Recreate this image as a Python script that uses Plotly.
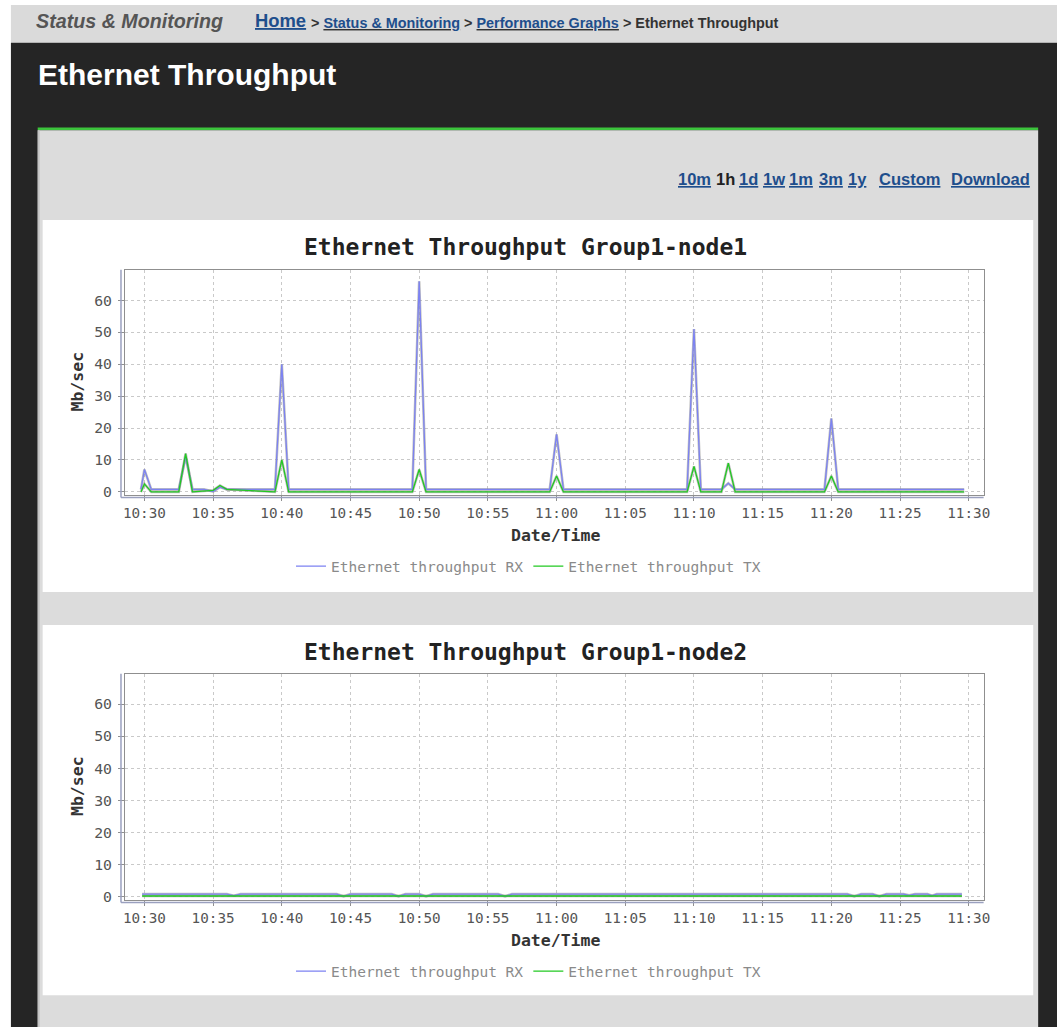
import plotly.graph_objects as go

W, H = 1064, 1032
DAY = "2024-01-01 "

# ---------------- data ----------------
# node1 RX (time, Mb/sec)
rx1_time = ["10:29:45", "10:30:00", "10:30:30", "10:32:30", "10:33:00", "10:33:30", "10:34:20",
            "10:35:00", "10:35:30", "10:36:00", "10:39:30", "10:40:00", "10:40:30", "10:49:30",
            "10:50:00", "10:50:30", "10:59:30", "11:00:00", "11:00:30", "11:09:30", "11:10:00",
            "11:10:30", "11:12:00", "11:12:30", "11:13:00", "11:19:30", "11:20:00", "11:20:30",
            "11:29:40"]
rx1_val = [0.8, 7, 0.8, 0.8, 11, 0.8, 0.8,
           0.1, 1.5, 0.8, 0.8, 40, 0.8, 0.8,
           66, 0.8, 0.8, 18, 0.8, 0.8, 51,
           0.8, 0.8, 2.7, 0.8, 0.8, 23, 0.8,
           0.8]
# node1 TX
tx1_time = ["10:29:45", "10:30:00", "10:30:30", "10:32:30", "10:33:00", "10:33:30", "10:35:00",
            "10:35:30", "10:36:00", "10:39:30", "10:40:00", "10:40:30", "10:49:30", "10:50:00",
            "10:50:30", "10:59:30", "11:00:00", "11:00:30", "11:09:30", "11:10:00", "11:10:30",
            "11:12:00", "11:12:30", "11:13:00", "11:19:30", "11:20:00", "11:20:30", "11:29:40"]
tx1_val = [0, 2.5, 0, 0, 12, 0, 0.5,
           2, 0.8, 0, 10, 0, 0, 7,
           0, 0, 5, 0, 0, 8, 0,
           0, 9, 0, 0, 5, 0, 0]
# node2 RX
rx2_time = ["10:29:50", "10:36:00", "10:36:30", "10:37:00", "10:44:00", "10:44:30", "10:45:00",
            "10:48:00", "10:48:30", "10:49:00", "10:50:00", "10:50:30", "10:51:00", "10:55:45",
            "10:56:15", "10:56:45", "11:21:10", "11:21:40", "11:22:10", "11:23:00", "11:23:30",
            "11:24:00", "11:25:15", "11:25:40", "11:26:05", "11:27:00", "11:27:20", "11:27:40",
            "11:29:30"]
rx2_val = [0.8, 0.8, 0.3, 0.8, 0.8, 0.1, 0.8,
           0.8, 0.1, 0.8, 0.8, 0.1, 0.8, 0.8,
           0.1, 0.8, 0.8, 0.1, 0.8, 0.8, 0.1,
           0.8, 0.8, 0.4, 0.8, 0.8, 0.3, 0.8,
           0.8]
# node2 TX
tx2_time = ["10:29:50", "10:45:00", "10:50:00", "11:00:00", "11:15:00", "11:29:30"]
tx2_val = [0.2, 0.2, 0.2, 0.2, 0.2, 0.2]

y_ticks = [0, 10, 20, 30, 40, 50, 60]
series_names = ["Ethernet throughput RX", "Ethernet throughput TX"]
chart_titles = ["Ethernet Throughput Group1-node1", "Ethernet Throughput Group1-node2"]
range_links = ["10m", "1h", "1d", "1w", "1m", "3m", "1y", "Custom", "Download"]
range_link_x = [680, 718, 741, 765, 792, 822, 851, 882, 955]

RX_COLOR = "#7c82f2"
TX_COLOR = "#22c922"
SHADOW = "rgba(140,140,140,0.55)"
MONO = "DejaVu Sans Mono"
SANS = "Liberation Sans, Arial, sans-serif"


def px(x):
    return x / W


def py(y):
    return 1 - y / H


def ts(lst):
    return [DAY + t for t in lst]


fig = go.Figure()

datasets = [
    ((rx1_time, rx1_val), (tx1_time, tx1_val), "x", "y", "legend"),
    ((rx2_time, rx2_val), (tx2_time, tx2_val), "x2", "y2", "legend2"),
]
for rx, tx, xa, ya, lg in datasets:
    for (t, v) in (rx, tx):
        fig.add_trace(go.Scatter(x=ts(t), y=v, mode="lines", xaxis=xa, yaxis=ya,
                                 line=dict(color=SHADOW, width=2.6), showlegend=False,
                                 hoverinfo="skip"))
    fig.add_trace(go.Scatter(x=ts(rx[0]), y=rx[1], mode="lines", name=series_names[0],
                             xaxis=xa, yaxis=ya, legend=lg,
                             line=dict(color=RX_COLOR, width=1.3)))
    fig.add_trace(go.Scatter(x=ts(tx[0]), y=tx[1], mode="lines", name=series_names[1],
                             xaxis=xa, yaxis=ya, legend=lg,
                             line=dict(color=TX_COLOR, width=1.3)))

# ---------------- axes ----------------
x_dom = [px(124), px(990)]
frames = [(271, 497, [-0.84, 69.6]), (677, 904, [-0.93, 69.5])]
xrange = [DAY + "10:28:35", DAY + "11:31:05"]

common_x = dict(type="date", range=xrange, tick0=DAY + "10:30:00", dtick=300000,
                tickformat="%H:%M", showgrid=True, gridcolor="#c9c9c9", griddash="dot",
                gridwidth=1, showline=True, mirror=True, linecolor="#8f8f8f", linewidth=1,
                ticks="outside", ticklen=5, tickcolor="#8f8f8f", zeroline=False,
                tickfont=dict(family=MONO, size=14.3, color="#555555"),
                ticklabelstandoff=0, fixedrange=True)
common_y = dict(tickvals=y_ticks, showgrid=True, gridcolor="#c9c9c9", griddash="dot",
                gridwidth=1, showline=True, mirror=True, linecolor="#8f8f8f", linewidth=1,
                ticks="outside", ticklen=6, tickcolor="#8f8f8f", zeroline=False,
                tickfont=dict(family=MONO, size=14.8, color="#555555"),
                ticklabelstandoff=3, fixedrange=True)

fig.update_layout(
    xaxis=dict(domain=x_dom, anchor="y", **common_x),
    yaxis=dict(domain=[py(frames[0][1]), py(frames[0][0])], range=frames[0][2], anchor="x", **common_y),
    xaxis2=dict(domain=x_dom, anchor="y2", **common_x),
    yaxis2=dict(domain=[py(frames[1][1]), py(frames[1][0])], range=frames[1][2], anchor="x2", **common_y),
)

# ---------------- page background shapes ----------------
shapes = []


def rect(x0, y0, x1, y1, color, layer="below"):
    shapes.append(dict(type="rect", xref="paper", yref="paper", x0=px(x0), x1=px(x1),
                       y0=py(y1), y1=py(y0), fillcolor=color, line=dict(width=0), layer=layer))


rect(9, 5, W, 43, "#dadada")
rect(9, 43, W, H, "#252525")
rect(36, 128, 1045, 131, "#3cc43c")
rect(36, 131, 1045, H, "#dcdcdc")
rect(36, 131, 38, H, "#c4c4c4")
rect(41, 221, 1040, 595, "#ffffff")
rect(41, 628, 1040, 1000, "#ffffff")

# offset axis lines (JFreeChart style)
for top, bot, _ in frames:
    shapes.append(dict(type="line", xref="paper", yref="paper", x0=px(120), x1=px(120),
                       y0=py(bot + 3), y1=py(top), line=dict(color="#9aa0bf", width=1.5)))
    shapes.append(dict(type="line", xref="paper", yref="paper", x0=px(120), x1=px(990),
                       y0=py(bot + 3), y1=py(bot + 3), line=dict(color="#9aa0bf", width=1.5)))

# ---------------- text ----------------
ann = []


def text(x, y, s, size, color, family=SANS, xanchor="left", yanchor="middle", angle=0):
    ann.append(dict(x=px(x), y=py(y), xref="paper", yref="paper", text=s, showarrow=False,
                    xanchor=xanchor, yanchor=yanchor, textangle=angle,
                    font=dict(family=family, size=size, color=color)))


LINK = "#1e4e8c"
text(32, 21, "<b><i>Status &amp; Monitoring</i></b>", 19.7, "#555555")
text(253, 21, "<b><u>Home</u></b>", 18.4, LINK)
text(306, 23,
     "<b> &gt; <u><span style='color:%s'>Status &amp; Monitoring</span></u> &gt; "
     "<u><span style='color:%s'>Performance Graphs</span></u> &gt; Ethernet Throughput</b>" % (LINK, LINK),
     14.4, "#333333")
text(34, 75, "<b>Ethernet Throughput</b>", 30, "#ffffff")

for lab, xl in zip(range_links, range_link_x):
    if lab == "1h":
        text(xl, 180, "<b>%s</b>" % lab, 16.5, "#222222")
    else:
        text(xl, 180, "<b><u>%s</u></b>" % lab, 16.5, LINK)

title_y = [248, 655]
for (top, bot, _), ttl, ty in zip(frames, chart_titles, title_y):
    text(528, ty, "<b>%s</b>" % ttl, 23, "#222222", family=MONO, xanchor="center")
    text(558, bot + 41, "<b>Date/Time</b>", 16.5, "#333333", family=MONO, xanchor="center")
    text(76, (top + bot) / 2 - 1, "<b>Mb/sec</b>", 16.5, "#333333", family=MONO,
         xanchor="center", angle=-90)

legend_common = dict(orientation="h", xanchor="center", yanchor="middle", x=px(531),
                     bgcolor="rgba(0,0,0,0)", itemwidth=30, tracegroupgap=0,
                     font=dict(family=MONO, size=14.5, color="#8a8a8a"))

fig.update_layout(
    width=W, height=H, autosize=False,
    margin=dict(l=0, r=0, t=0, b=0, pad=0),
    paper_bgcolor="#ffffff", plot_bgcolor="rgba(0,0,0,0)",
    shapes=shapes, annotations=ann,
    legend=dict(y=py(569), **legend_common),
    legend2=dict(y=py(976), **legend_common),
    hovermode=False,
)

fig.write_html("out.html", config={"displayModeBar": False},
               post_script="document.body.style.margin='0';document.body.style.overflow='hidden';"
                           "document.documentElement.style.overflow='hidden';")
